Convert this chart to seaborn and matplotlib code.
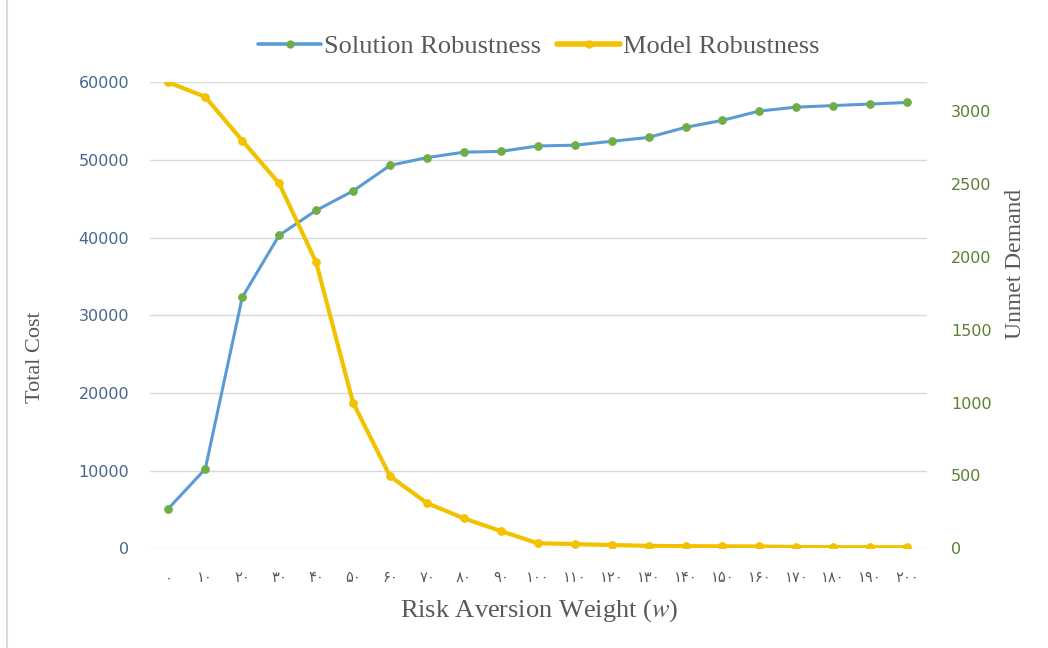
import pandas as pd
import numpy as np
import matplotlib
matplotlib.use('Agg')
import matplotlib.pyplot as plt
import seaborn as sns
from matplotlib.lines import Line2D

#Data
weights = [0, 10, 20, 30, 40, 50, 60, 70, 80, 90, 100,
           110, 120, 130, 140, 150, 160, 170, 180, 190, 200]
solution_cost = [5100, 10200, 32300, 40300, 43500, 46000, 49300, 50300, 51000, 51100, 51800,
                 51900, 52400, 52900, 54200, 55100, 56300, 56800, 57000, 57200, 57400]
model_unmet = [3200, 3100, 2800, 2505, 1965, 1000, 495, 310, 205, 118, 34,
               28, 22, 16, 14, 13, 12, 8, 7, 7, 7]
x_ticklabels = ['۰', '۱۰', '۲۰', '۳۰', '۴۰', '۵۰', '۶۰', '۷۰', '۸۰', '۹۰', '۱۰۰',
                '۱۱۰', '۱۲۰', '۱۳۰', '۱۴۰', '۱۵۰', '۱۶۰', '۱۷۰', '۱۸۰', '۱۹۰', '۲۰۰']
left_ticks = [0, 10000, 20000, 30000, 40000, 50000, 60000]
right_ticks = [0, 500, 1000, 1500, 2000, 2500, 3000]

df = pd.DataFrame({'w': weights, 'cost': solution_cost, 'unmet': model_unmet})

sns.set_style('white')
plt.rcParams['mathtext.fontset'] = 'stix'
blue = '#5B9BD5'
yellow = '#F2C200'
green = '#70AD47'
serif = ['Liberation Serif', 'DejaVu Serif']

fig = plt.figure(figsize=(10.48, 6.48), dpi=100)
ax = fig.add_axes([0.143, 0.154, 0.742, 0.719])
ax2 = ax.twinx()

sns.lineplot(data=df, x='w', y='cost', ax=ax, color=blue, linewidth=2.2,
             marker='o', markersize=5.5, markerfacecolor=green, markeredgecolor=green, zorder=3)
sns.lineplot(data=df, x='w', y='unmet', ax=ax2, color=yellow, linewidth=3.0,
             marker='o', markersize=5.5, markerfacecolor=yellow, markeredgecolor=yellow, zorder=3)

ax.set_xlim(-5, 205.5)
ax.set_ylim(0, 60000)
ax2.set_ylim(0, 3200)
ax.set_yticks(left_ticks)
ax2.set_yticks(right_ticks)
ax.set_xticks(weights)
ax.set_xticklabels(x_ticklabels, fontsize=10.5, color='#595959', family=['DejaVu Sans'])
ax.grid(axis='y', color='#D9D9D9', linewidth=1)
ax.set_axisbelow(True)

for a in (ax, ax2):
    for s in a.spines.values():
        s.set_visible(False)
    a.tick_params(length=0)
ax.tick_params(axis='y', colors='#44688C', labelsize=11.5, pad=15)
ax2.tick_params(axis='y', colors='#5A7F32', labelsize=11.5, pad=17)
ax.tick_params(axis='x', pad=16)

ax.set_xlabel('')
ax.set_ylabel('')
ax2.set_ylabel('')
fig.text(0.515, 0.058, 'Risk Aversion Weight ($\\mathit{w}$)', ha='center', va='center',
         fontsize=19, color='#595959', family=serif)
fig.text(0.034, 0.449, 'Total Cost', rotation=90, va='center', ha='center', fontsize=16,
         color='#595959', family=serif)
fig.text(0.969, 0.593, 'Unmet Demand', rotation=90, va='center', ha='center', fontsize=17,
         color='#595959', family=serif)

handles = [Line2D([], [], color=blue, linewidth=2.6, marker='o', markersize=5,
                  markerfacecolor=green, markeredgecolor=green),
           Line2D([], [], color=yellow, linewidth=4, marker='o', markersize=5,
                  markerfacecolor=yellow, markeredgecolor=yellow)]
fig.legend(handles, ['Solution Robustness', 'Model Robustness'], loc='center',
           bbox_to_anchor=(0.514, 0.928), ncol=2, frameon=False, handlelength=2.4,
           handletextpad=0.1, columnspacing=0.6,
           prop={'family': serif, 'size': 19}, labelcolor='#595959')

fig.add_artist(Line2D([0.007, 0.007], [0.0, 1.0], color='#D9D9D9', linewidth=1.5))

plt.savefig('out.png', dpi=100)
